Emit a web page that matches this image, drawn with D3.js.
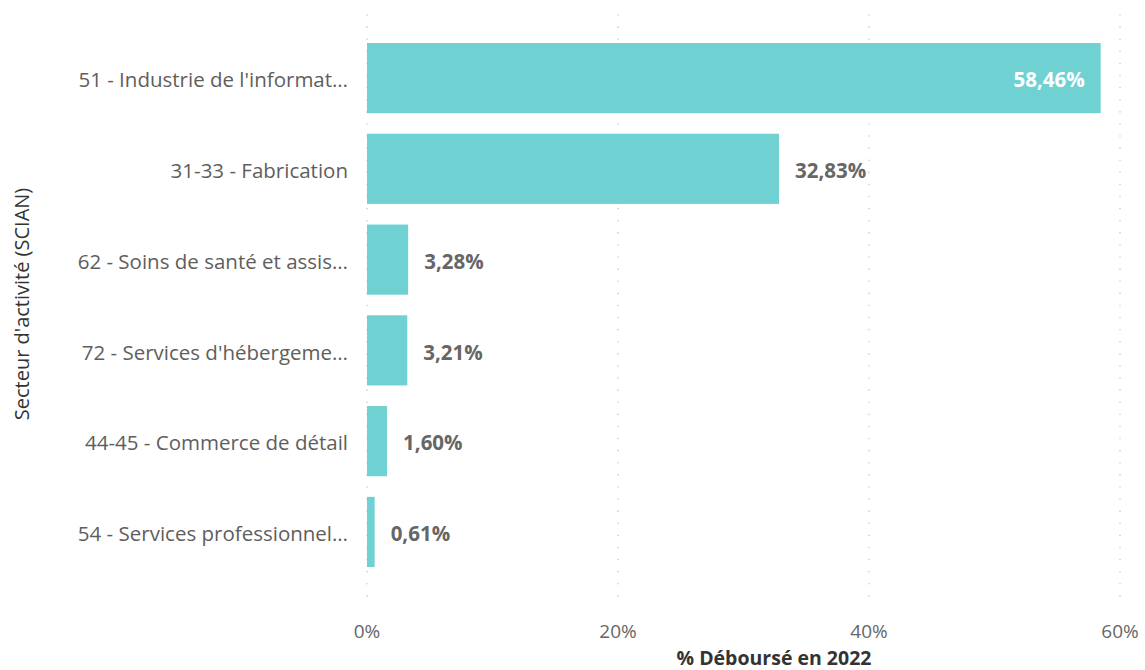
<!DOCTYPE html>
<html>
<head>
<meta charset="utf-8">
<script src="https://cdn.jsdelivr.net/npm/d3@7"></script>
<style>
  body { margin: 0; background: #fff; }
  svg text { font-family: "Open Sans", "Noto Sans", sans-serif; }
</style>
</head>
<body>
<div id="chart"></div>
<script>
// categories as shown on the axis (truncated by the report)
var categories = [
  "51 - Industrie de l'informat\u2026",
  "31-33 - Fabrication",
  "62 - Soins de sant\u00e9 et assis\u2026",
  "72 - Services d'h\u00e9bergeme\u2026",
  "44-45 - Commerce de d\u00e9tail",
  "54 - Services professionnel\u2026"
];
var values = [58.46, 32.83, 3.28, 3.21, 1.60, 0.61];
var xTicks = [0, 20, 40, 60];

var width = 1145, height = 670,
  margin = {top: 15, left: 367, right: 25, bottom: 70},
  barColor = "#6fd1d2";

var svg = d3.select("#chart").append("svg")
  .attr("width", width)
  .attr("height", height);

var x = d3.scaleLinear()
  .domain([0, 60])
  .range([margin.left, width - margin.right]);

var y = d3.scaleBand()
  .domain(categories)
  .range([32.7, 577.3])
  .paddingInner(0.227)
  .paddingOuter(0.1135);

var fr = function(v) { return v.toFixed(2).replace(".", ",") + "%"; };

// dotted gridlines
svg.append("g")
  .selectAll("line")
  .data(xTicks)
  .enter().append("line")
  .attr("x1", function(d) { return x(d); })
  .attr("x2", function(d) { return x(d); })
  .attr("y1", 15)
  .attr("y2", 600)
  .attr("stroke", "#c8c8c8")
  .attr("stroke-width", 1.5)
  .attr("stroke-linecap", "round")
  .attr("stroke-dasharray", "0.1,12");

// x tick labels
svg.append("g")
  .selectAll("text")
  .data(xTicks)
  .enter().append("text")
  .attr("x", function(d) { return x(d); })
  .attr("y", 638)
  .attr("text-anchor", "middle")
  .style("font-size", "19px")
  .style("fill", "#666")
  .text(function(d) { return d + "%"; });

// bars
var rows = categories.map(function(c, i) { return {cat: c, val: values[i]}; });

svg.append("g")
  .selectAll("rect")
  .data(rows)
  .enter().append("rect")
  .attr("x", x(0))
  .attr("y", function(d) { return y(d.cat); })
  .attr("width", function(d) { return x(d.val) - x(0); })
  .attr("height", y.bandwidth())
  .attr("fill", barColor);

// category labels
svg.append("g")
  .selectAll("text")
  .data(rows)
  .enter().append("text")
  .attr("x", 348)
  .attr("y", function(d) { return y(d.cat) + y.bandwidth() / 2 + 2; })
  .attr("dy", "0.35em")
  .attr("text-anchor", "end")
  .style("font-size", "20.5px")
  .style("fill", "#605e5c")
  .text(function(d) { return d.cat; });

// value labels: inside for long bars, outside otherwise
svg.append("g")
  .selectAll("text")
  .data(rows)
  .enter().append("text")
  .attr("x", function(d) { return d.val > 50 ? x(d.val) - 16 : x(d.val) + 16; })
  .attr("y", function(d) { return y(d.cat) + y.bandwidth() / 2 + 2; })
  .attr("dy", "0.35em")
  .attr("text-anchor", function(d) { return d.val > 50 ? "end" : "start"; })
  .style("font-size", "20.5px")
  .style("font-weight", "bold")
  .style("fill", function(d) { return d.val > 50 ? "#fff" : "#666"; })
  .text(function(d) { return fr(d.val); });

// axis titles
svg.append("text")
  .attr("x", 774)
  .attr("y", 665)
  .attr("text-anchor", "middle")
  .style("font-size", "19.5px")
  .style("font-weight", "bold")
  .style("fill", "#333")
  .text("% D\u00e9bours\u00e9 en 2022");

svg.append("text")
  .attr("transform", "translate(29,304) rotate(-90)")
  .attr("text-anchor", "middle")
  .style("font-size", "20px")
  .style("fill", "#333")
  .text("Secteur d'activit\u00e9 (SCIAN)");
</script>
</body>
</html>
